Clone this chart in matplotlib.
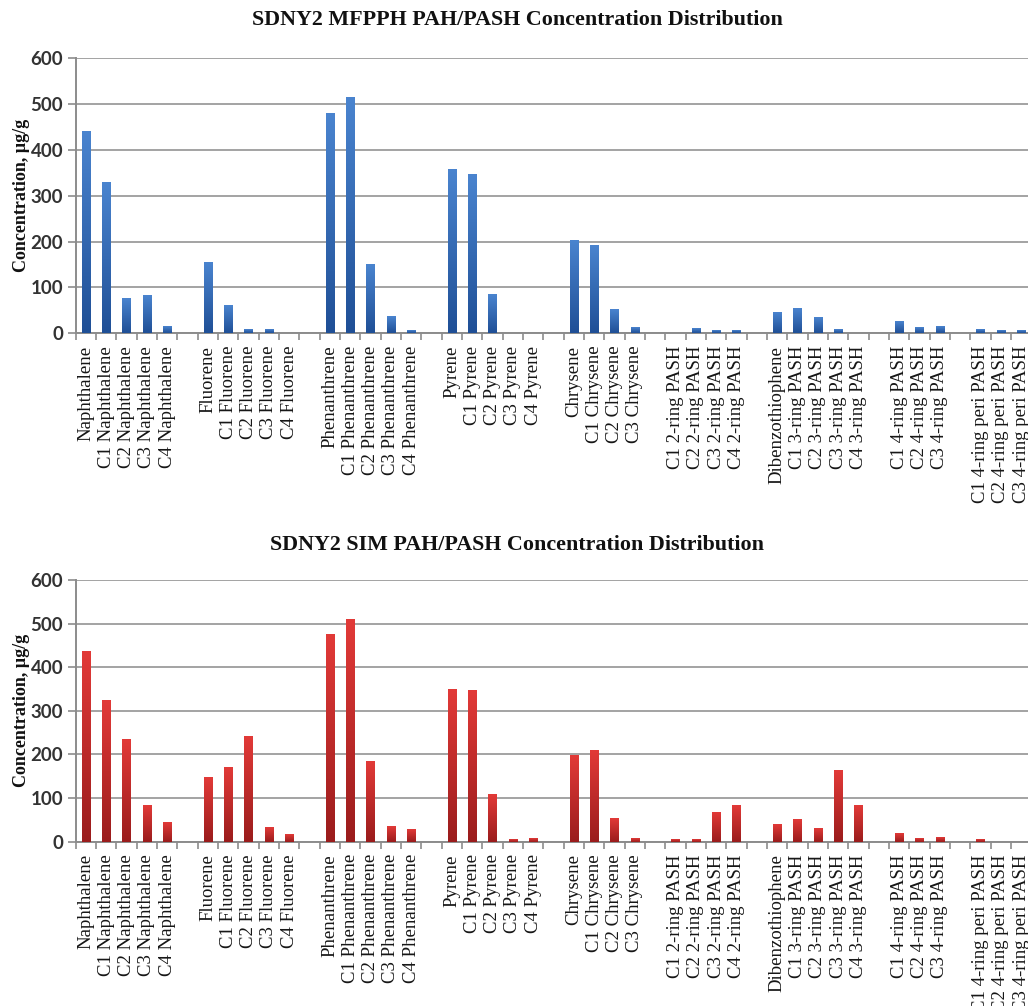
import numpy as np
import matplotlib
matplotlib.use("Agg")
import matplotlib.pyplot as plt
from matplotlib.colors import LinearSegmentedColormap

# Compound categories (empty strings separate the compound families)
categories = [
    "Naphthalene", "C1 Naphthalene", "C2 Naphthalene", "C3 Naphthalene", "C4 Naphthalene", "",
    "Fluorene", "C1 Fluorene", "C2 Fluorene", "C3 Fluorene", "C4 Fluorene", "",
    "Phenanthrene", "C1 Phenanthrene", "C2 Phenanthrene", "C3 Phenanthrene", "C4 Phenanthrene", "",
    "Pyrene", "C1 Pyrene", "C2 Pyrene", "C3 Pyrene", "C4 Pyrene", "",
    "Chrysene", "C1 Chrysene", "C2 Chrysene", "C3 Chrysene", "",
    "C1 2-ring PASH", "C2 2-ring PASH", "C3 2-ring PASH", "C4 2-ring PASH", "",
    "Dibenzothiophene", "C1 3-ring PASH", "C2 3-ring PASH", "C3 3-ring PASH", "C4 3-ring PASH", "",
    "C1 4-ring PASH", "C2 4-ring PASH", "C3 4-ring PASH", "",
    "C1 4-ring peri PASH", "C2 4-ring peri PASH", "C3 4-ring peri PASH",
]

nan = np.nan
# Concentrations, ug/g
mfpph_values = [
    440, 328, 76, 82, 15, nan,
    153, 60, 7, 7, 0, nan,
    478, 514, 150, 36, 5, nan,
    356, 345, 84, 0, 0, nan,
    202, 191, 51, 12, nan,
    0, 9, 5, 5, nan,
    44, 53, 33, 7, 0, nan,
    25, 12, 15, nan,
    7, 5, 6,
]
sim_values = [
    437, 324, 235, 83, 44, nan,
    149, 170, 241, 34, 18, nan,
    475, 510, 185, 36, 28, nan,
    350, 348, 109, 6, 9, nan,
    198, 210, 55, 9, nan,
    5, 5, 68, 84, nan,
    39, 52, 30, 165, 83, nan,
    19, 9, 11, nan,
    5, 0, 0,
]

titles = ["SDNY2 MFPPH PAH/PASH Concentration Distribution",
          "SDNY2 SIM PAH/PASH Concentration Distribution"]
y_label = "Concentration, \u00b5g/g"
y_ticks = [0, 100, 200, 300, 400, 500, 600]

SERIF = ["Liberation Serif", "DejaVu Serif"]
GRID = "#a3a3a3"
AXIS = "#8c8c8c"


def gradient_bars(ax, values, top_color, bottom_color, width=0.42):
    x = np.arange(len(values))
    vals = np.array(values, dtype=float)
    bars = ax.bar(x, np.nan_to_num(vals), width, color="none", edgecolor="none", zorder=3)
    cmap = LinearSegmentedColormap.from_list("bar_grad", [bottom_color, top_color])
    grad = np.linspace(0, 1, 256).reshape(-1, 1)
    for b in bars:
        h = b.get_height()
        if not h > 0:
            continue
        x0, w = b.get_x(), b.get_width()
        ax.imshow(grad, extent=[x0, x0 + w, 0, h], origin="lower", cmap=cmap,
                  aspect="auto", zorder=3, interpolation="bilinear")


def style_axes(ax, title, title_y):
    n = len(categories)
    ax.set_xlim(-0.5, n - 0.5)
    ax.set_ylim(0, 600)
    ax.set_yticks(y_ticks)
    ax.set_yticklabels([str(t) for t in y_ticks], fontfamily="Lato",
                       fontweight="bold", fontsize=13.5, color="#333333")
    ax.set_xticks(np.arange(n))
    ax.set_xticklabels(categories, rotation=90, fontfamily=SERIF,
                       fontsize=13.5, color="#161616", va="top")
    ax.set_xticks(np.arange(n + 1) - 0.5, minor=True)
    ax.tick_params(axis="x", which="major", length=0, pad=9)
    ax.tick_params(axis="x", which="minor", length=5, width=1.2, color=AXIS, direction="out")
    ax.tick_params(axis="y", length=6, width=1.2, color=AXIS, pad=3)
    ax.yaxis.grid(True, color=GRID, linewidth=1.4, zorder=0)
    ax.set_axisbelow(True)
    for s in ("top", "right"):
        ax.spines[s].set_visible(False)
    for s in ("left", "bottom"):
        ax.spines[s].set_color(AXIS)
        ax.spines[s].set_linewidth(1.4)
    ax.set_ylabel(y_label, fontfamily=SERIF, fontweight="bold", fontsize=13,
                  color="#111111")
    ax.yaxis.set_label_coords(-0.048, 0.5)
    fig.text(0.503, title_y, title, ha="center", va="center", fontfamily=SERIF,
             fontweight="bold", fontsize=15.8, color="#111111")


fig = plt.figure(figsize=(10.28, 10.06), dpi=100)
fig.patch.set_facecolor("white")

W, H = 1028, 1006
ax_left = 75.8 / W
ax_width = (1031.4 - 75.8) / W

ax1 = fig.add_axes([ax_left, 1 - 333.3 / H, ax_width, (333.3 - 58.3) / H])
gradient_bars(ax1, mfpph_values, "#4a84cf", "#1f4f96")
style_axes(ax1, titles[0], 1 - 20 / H)

ax2 = fig.add_axes([ax_left, 1 - 841.7 / H, ax_width, (841.7 - 580.0) / H])
gradient_bars(ax2, sim_values, "#e23a38", "#9a1c1c")
style_axes(ax2, titles[1], 1 - 545 / H)

fig.savefig("out.png", dpi=100)
